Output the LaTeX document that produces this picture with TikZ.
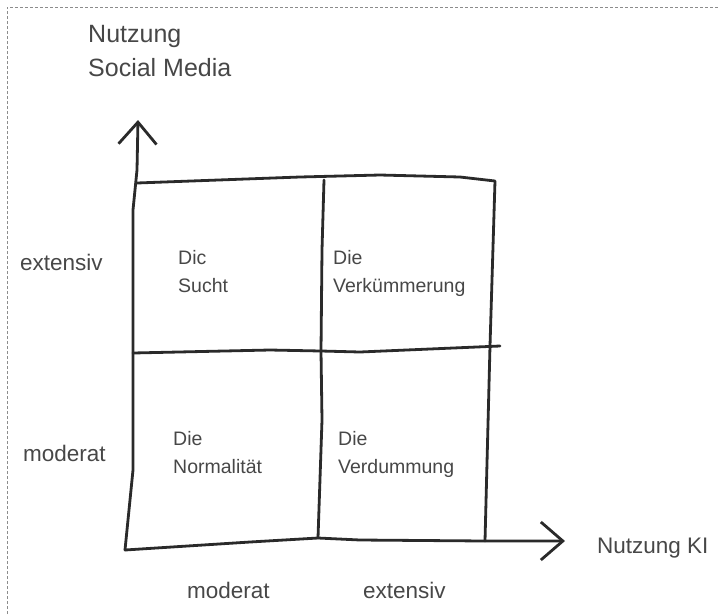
\documentclass[tikz,border=0pt]{standalone}
\usepackage{fontspec}
\setmainfont{Liberation Sans}
\usetikzlibrary{arrows.meta, positioning}

\definecolor{inkgray}{HTML}{2A2A2A}
\definecolor{txtgray}{HTML}{474747}
\definecolor{framegray}{HTML}{8C8C8C}

\tikzset{
	hand/.style={line width=2.8pt, draw=inkgray, line cap=round, line join=round},
	axisline/.style={hand, -{Straight Barb[length=22pt, width=38pt]}},
	heading/.style={anchor=base west, inner sep=0pt, text=txtgray, align=left, font=\fontsize{25}{34}\selectfont},
	axlabel/.style={anchor=base west, inner sep=0pt, text=txtgray, font=\fontsize{22.5}{27}\selectfont},
	quad/.style={anchor=base west, inner sep=0pt, text=txtgray, align=left, font=\fontsize{19.5}{27.5}\selectfont},
}

\begin{document}
\begin{tikzpicture}[x=1pt, y=-1pt]
	\useasboundingbox (0,0) rectangle (720,614);
	\draw[framegray, line width=0.8pt, dash pattern=on 3pt off 2pt] (7,614) -- (7,7) -- (720,7);

	% grid corners
	\coordinate (o) at (125,550);
	\coordinate (ytip) at (138,120);
	\coordinate (xtip) at (565,541);
	\coordinate (tl) at (137,183);
	\coordinate (tm) at (324,180);
	\coordinate (tr) at (495,181);
	\coordinate (ml) at (133,353);
	\coordinate (mm) at (321,351);
	\coordinate (mr) at (500,346);
	\coordinate (bm) at (318,538);
	\coordinate (br) at (485,541);

	% axes
	\draw[axisline] (o) -- (133,470) -- (133,210) -- (137,170) -- (ytip);
	\draw[axisline] (o) -- (250,542) -- (bm) -- (360,540) -- (br) -- (xtip);

	% grid
	\draw[hand] (tl) -- (300,177) -- (380,175) -- (460,177) -- (tr) -- (492,280) -- (490,346) -- (br);
	\draw[hand] (ml) -- (270,350) -- (mm) -- (360,352) -- (mr);
	\draw[hand] (tm) -- (322,250) -- (mm) -- (322,420) -- (bm);

	% labels (multi-line nodes sit on their last line)
	\node[heading] (yname) at (88,76) {Nutzung\\Social Media};
	\node[axlabel] (xname) at (597,553) {Nutzung KI};
	\node[axlabel] (yhigh) at (20,270) {extensiv};
	\node[axlabel] (ylow) at (23,461) {moderat};
	\node[axlabel] (xlow) at (187,598) {moderat};
	\node[axlabel] (xhigh) at (363,598) {extensiv};

	\node[quad] (sucht) at (178,292) {Dic\\Sucht};
	\node[quad] (verkuemmerung) at (333,292) {Die\\Verkümmerung};
	\node[quad] (normalitaet) at (173,473) {Die\\Normalität};
	\node[quad] (verdummung) at (338,473) {Die\\Verdummung};
\end{tikzpicture}
\end{document}
